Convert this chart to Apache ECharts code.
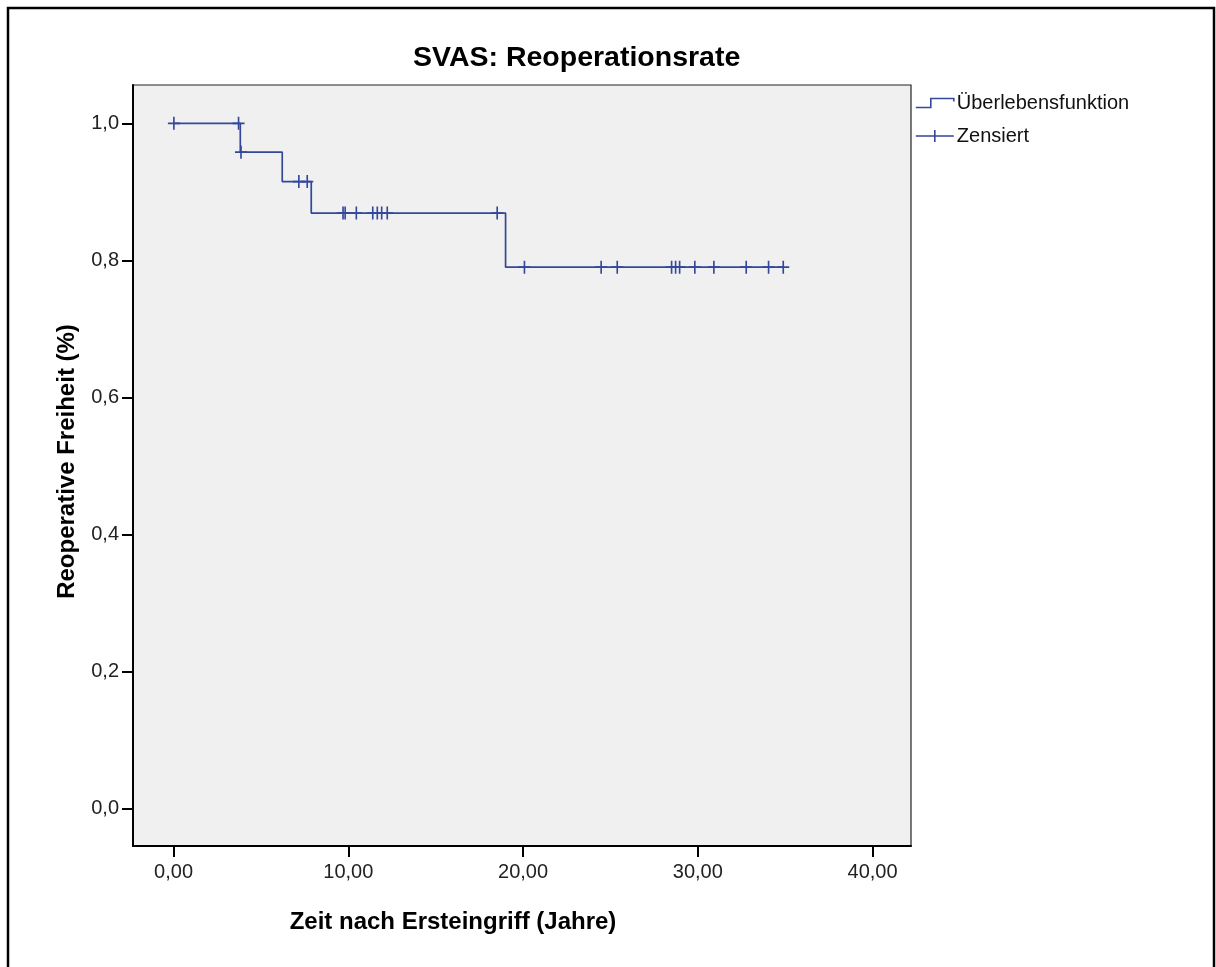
<!DOCTYPE html>
<html>
<head>
<meta charset="utf-8">
<script src="https://cdn.jsdelivr.net/npm/echarts@6/dist/echarts.min.js"></script>
<style>
  html, body { margin: 0; padding: 0; background: #ffffff; }
  #chart { width: 1216px; height: 967px; }
</style>
</head>
<body>
<div id="chart"></div>
<script>
// Kaplan-Meier step function: event times (years) and survival after each event
const eventTimes = [0, 3.82, 6.22, 7.88, 19.0];
const survival = [1.0, 0.958, 0.915, 0.869, 0.790];
const lastFollowUp = 34.89;
// Censored observations (years)
const censorTimes = [0.02, 3.72, 3.86, 7.17, 7.65, 9.70, 9.82, 10.46, 11.40, 11.66, 11.91, 12.23,
  18.52, 20.08, 24.47, 25.39, 28.50, 28.73, 28.96, 29.83, 30.92, 32.77, 34.05, 34.89];
// Tick values
const xTicks = [0, 10, 20, 30, 40];
const yTicks = [0, 0.2, 0.4, 0.6, 0.8, 1.0];

const FONT = '"Liberation Sans", Arial, sans-serif';
const BLUE = '#33479b';

function survAt(t) {
  let s = survival[0];
  for (let i = 0; i < eventTimes.length; i++) {
    if (t >= eventTimes[i]) s = survival[i];
  }
  return s;
}

const lineData = eventTimes.map((t, i) => [t, survival[i]]);
lineData.push([lastFollowUp, survival[survival.length - 1]]);
const censorData = censorTimes.map(t => [t, survAt(t)]);

const chart = echarts.init(document.getElementById('chart'), null, { renderer: 'canvas' });
chart.setOption({
  animation: false,
  backgroundColor: '#ffffff',
  textStyle: { fontFamily: FONT },
  title: {
    text: 'SVAS: Reoperationsrate',
    left: 408,
    top: 39,
    textStyle: { fontFamily: FONT, fontSize: 28.5, fontWeight: 'bold', color: '#000' }
  },
  legend: {
    orient: 'vertical',
    left: 915,
    top: 93,
    padding: 0,
    itemGap: 13,
    itemWidth: 38,
    itemHeight: 13,
    selectedMode: false,
    textStyle: { fontFamily: FONT, fontSize: 20, color: '#111', padding: [0, 0, 0, -2] },
    data: [
      { name: 'Überlebensfunktion', icon: 'path://M0,10 L15,10 L15,1 L38,1 L38,4',
        itemStyle: { color: 'transparent', borderColor: BLUE, borderWidth: 1.6 } },
      { name: 'Zensiert', icon: 'path://M0,6 L38,6 M19,0 L19,12',
        itemStyle: { color: 'transparent', borderColor: BLUE, borderWidth: 1.6 } }
    ]
  },
  grid: {
    left: 133, right: 305, top: 85, bottom: 121,
    show: true, backgroundColor: '#f0f0f0', borderColor: '#222', borderWidth: 1.2
  },
  xAxis: {
    type: 'value',
    min: -2.32,
    max: 42.2,
    name: 'Zeit nach Ersteingriff (Jahre)',
    nameLocation: 'middle',
    nameGap: 64,
    nameTextStyle: { fontFamily: FONT, fontSize: 24, fontWeight: 'bold', color: '#000', padding: [0, 138, 0, 0] },
    axisLine: { onZero: false, lineStyle: { color: '#000', width: 2 } },
    axisTick: { show: true, length: 11, customValues: xTicks, lineStyle: { color: '#000', width: 2 } },
    axisLabel: {
      customValues: xTicks, margin: 16, fontSize: 20, color: '#222', fontFamily: FONT,
      formatter: v => v.toFixed(2).replace('.', ',')
    },
    splitLine: { show: false }
  },
  yAxis: {
    type: 'value',
    min: -0.055,
    max: 1.056,
    name: 'Reoperative Freiheit (%)',
    nameLocation: 'middle',
    nameRotate: 90,
    nameGap: 54,
    nameTextStyle: { fontFamily: FONT, fontSize: 24, fontWeight: 'bold', color: '#000', padding: [0, 0, 0, 8] },
    axisLine: { show: true, onZero: false, lineStyle: { color: '#000', width: 2 } },
    axisTick: { show: true, length: 11, customValues: yTicks, lineStyle: { color: '#000', width: 2 } },
    axisLabel: {
      customValues: yTicks, margin: 14, fontSize: 20, color: '#222', fontFamily: FONT,
      formatter: v => v.toFixed(1).replace('.', ',')
    },
    splitLine: { show: false }
  },
  graphic: [
    { type: 'rect', shape: { x: 8, y: 8, width: 1206, height: 1000 },
      style: { fill: 'none', stroke: '#000', lineWidth: 2.5 }, silent: true, z: 100 }
  ],
  series: [
    {
      name: 'Überlebensfunktion',
      type: 'line',
      step: 'end',
      symbol: 'none',
      data: lineData,
      lineStyle: { color: BLUE, width: 1.7 },
      itemStyle: { color: BLUE },
      z: 3
    },
    {
      name: 'Zensiert',
      type: 'scatter',
      symbol: 'path://M0,6.5 L12,6.5 M6,0 L6,13',
      symbolSize: [12, 13],
      data: censorData,
      itemStyle: { color: 'transparent', borderColor: BLUE, borderWidth: 1.7, opacity: 1 },
      z: 4
    }
  ]
});
</script>
</body>
</html>
